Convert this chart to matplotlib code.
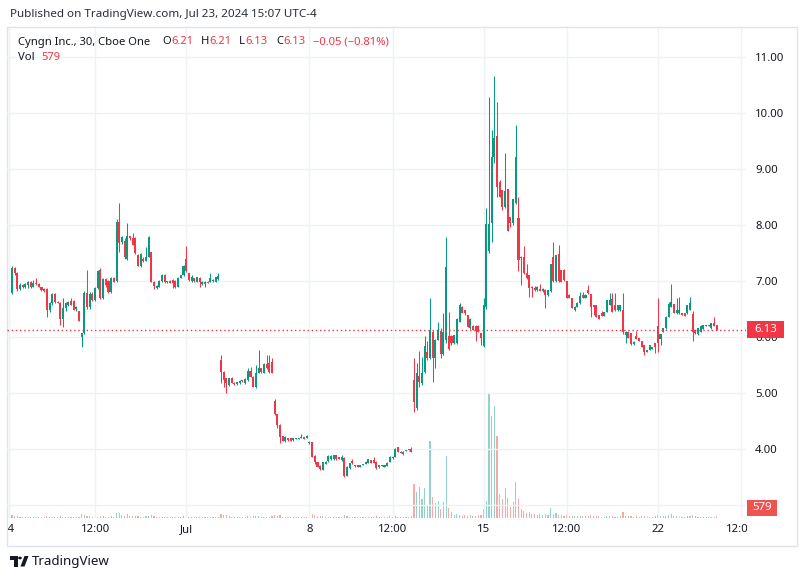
import matplotlib
matplotlib.use('Agg')
import matplotlib.pyplot as plt
from matplotlib.patches import Rectangle, Circle, Polygon

plt.rcParams['font.family'] = ['Noto Sans', 'DejaVu Sans']

## 30-minute bars, Jun 24 - Jul 23 2024 (13 bars a day, Jul 3 half day)
opens = [
    6.78, 7.23, 7.15, 6.85, 6.93, 6.90, 6.93, 6.99, 6.90, 6.97, 6.94, 6.90, 6.85,  # Jun 24
    6.86, 6.48, 6.60, 6.77, 6.62, 6.61, 6.32, 6.52, 6.58, 6.64, 6.64, 6.50, 6.47,  # Jun 25
    6.00, 6.08, 6.78, 6.54, 6.77, 6.66, 6.87, 7.20, 6.70, 7.04, 7.00, 6.80, 7.06,  # Jun 26
    7.00, 8.06, 7.70, 7.72, 7.40, 7.80, 7.76, 7.76, 7.46, 7.27, 7.40, 7.36, 7.43,  # Jun 27
    7.51, 6.99, 6.88, 6.90, 7.00, 7.10, 6.98, 7.00, 7.02, 7.00, 6.90, 7.06, 7.10,  # Jun 28
    7.40, 7.14, 7.00, 7.05, 6.99, 7.06, 6.94, 6.94, 6.99, 6.99, 7.00, 6.99, 7.03,  # Jul 1
    5.59, 5.38, 5.26, 5.14, 5.26, 5.18, 5.16, 5.17, 5.22, 5.17, 5.23, 5.40, 5.29,  # Jul 2
    5.10, 5.36, 5.44, 5.36, 5.52, 5.53, 5.56,                                      # Jul 3
    4.85, 4.62, 4.43, 4.23, 4.14, 4.19, 4.19, 4.16, 4.18, 4.18, 4.19, 4.21, 4.20,  # Jul 5
    4.10, 4.12, 3.88, 3.76, 3.70, 3.63, 3.74, 3.78, 3.82, 3.82, 3.89, 3.835, 3.80,  # Jul 8
    3.845, 3.52, 3.655, 3.79, 3.70, 3.714, 3.685, 3.714, 3.732, 3.756, 3.80, 3.80, 3.774,  # Jul 9
    3.67, 3.70, 3.68, 3.70, 3.774, 3.833, 3.863, 4.03, 3.935, 3.952, 3.97, 3.982, 4.00,  # Jul 10
    5.23, 4.74, 5.31, 5.17, 5.38, 5.73, 5.63, 6.095, 5.63, 5.946, 6.10, 5.70, 5.95,  # Jul 11
    6.02, 6.02, 5.89, 5.89, 6.27, 6.54, 6.48, 6.39, 6.155, 6.20, 6.20, 6.20, 6.065,  # Jul 12
    5.84, 6.54, 7.54, 8.04, 9.22, 9.59, 8.77, 8.62, 8.33, 8.65, 8.15, 8.03, 8.40,  # Jul 15
    8.13, 7.43, 7.42, 7.137, 7.107, 6.90, 6.87, 6.84, 6.86, 6.82, 6.84, 6.75, 6.82,  # Jul 16
    7.42, 7.00, 7.49, 7.195, 7.19, 7.00, 6.75, 6.69, 6.48, 6.54, 6.60, 6.75, 6.70,  # Jul 17
    6.84, 6.76, 6.57, 6.57, 6.39, 6.42, 6.38, 6.45, 6.58, 6.67, 6.58, 6.48, 6.48,  # Jul 18
    6.48, 6.04, 6.095, 6.077, 5.87, 6.024, 5.976, 5.93, 5.857, 5.738, 5.768, 5.786, 5.887,  # Jul 19
    6.20, 5.964, 6.095, 6.155, 6.363, 6.542, 6.583, 6.42, 6.42, 6.42, 6.42, 6.42, 6.482,  # Jul 22
    6.405, 6.125, 6.048, 6.095, 6.143, 6.19, 6.202, 6.155, 6.244, 6.21,            # Jul 23
]
highs = [
    7.26, 7.25, 7.16, 6.96, 6.95, 6.96, 7.00, 7.00, 7.01, 7.05, 6.96, 6.90, 6.88,
    6.87, 6.62, 6.78, 6.78, 6.64, 6.62, 6.70, 6.62, 6.65, 6.69, 6.66, 6.55, 6.47,
    6.08, 6.82, 7.20, 6.80, 6.80, 6.90, 7.20, 7.23, 7.06, 7.06, 7.02, 7.08, 7.08,
    8.10, 8.39, 7.80, 7.76, 8.03, 7.81, 7.86, 7.78, 7.48, 7.50, 7.42, 7.60, 7.80,
    7.52, 7.00, 6.93, 7.01, 7.12, 7.12, 7.00, 7.01, 7.03, 7.01, 7.07, 7.11, 7.28,
    7.62, 7.15, 7.10, 7.06, 7.08, 7.07, 7.00, 7.00, 7.00, 7.14, 7.03, 7.08, 7.14,
    5.68, 5.40, 5.27, 5.27, 5.28, 5.19, 5.20, 5.23, 5.24, 5.26, 5.45, 5.47, 5.30,
    5.50, 5.77, 5.45, 5.53, 5.68, 5.68, 5.62,
    4.89, 4.63, 4.44, 4.24, 4.23, 4.20, 4.20, 4.19, 4.19, 4.20, 4.27, 4.22, 4.25,
    4.14, 4.13, 3.89, 3.77, 3.71, 3.77, 3.78, 3.89, 3.89, 3.90, 3.90, 3.85, 3.89,
    3.85, 3.70, 3.75, 3.82, 3.71, 3.72, 3.72, 3.74, 3.78, 3.82, 3.81, 3.85, 3.78,
    3.72, 3.71, 3.72, 3.76, 3.87, 3.87, 4.01, 4.04, 3.96, 3.96, 3.99, 3.99, 4.03,
    5.62, 5.53, 5.75, 5.65, 6.01, 5.93, 6.69, 6.12, 5.97, 6.27, 6.16, 6.42, 7.79,
    6.45, 6.03, 6.04, 6.34, 6.60, 6.55, 6.49, 6.40, 6.34, 6.21, 6.21, 6.21, 6.07,
    6.70, 8.30, 10.29, 9.70, 10.66, 10.20, 8.80, 8.62, 9.28, 8.65, 8.15, 8.46, 9.78,
    8.50, 7.44, 7.625, 7.30, 7.11, 6.91, 6.91, 6.91, 6.94, 6.87, 6.85, 6.84, 7.30,
    7.70, 7.47, 7.64, 7.20, 7.21, 7.00, 6.76, 6.70, 6.55, 6.62, 6.81, 6.81, 6.76,
    6.93, 6.77, 6.58, 6.58, 6.40, 6.46, 6.45, 6.66, 6.78, 6.78, 6.78, 6.57, 6.57,
    6.78, 6.10, 6.10, 6.08, 5.92, 6.10, 5.98, 5.93, 5.86, 5.77, 5.86, 5.83, 5.89,
    6.69, 6.05, 6.16, 6.37, 6.62, 6.94, 6.59, 6.70, 6.71, 6.43, 6.43, 6.58, 6.72,
    6.464, 6.13, 6.16, 6.21, 6.22, 6.21, 6.21, 6.25, 6.35, 6.21,
]
lows = [
    6.76, 7.10, 6.82, 6.84, 6.88, 6.88, 6.88, 6.88, 6.89, 6.93, 6.90, 6.83, 6.81,
    6.36, 6.45, 6.58, 6.60, 6.60, 6.22, 6.18, 6.46, 6.55, 6.57, 6.48, 6.46, 6.28,
    5.83, 6.05, 6.50, 6.50, 6.64, 6.64, 6.85, 6.68, 6.68, 6.90, 6.78, 6.79, 6.98,
    6.99, 7.51, 7.66, 7.40, 7.38, 7.74, 7.64, 7.49, 7.26, 7.25, 7.34, 7.35, 7.42,
    6.98, 6.85, 6.86, 6.89, 6.98, 6.96, 6.97, 6.96, 6.87, 6.87, 6.89, 7.05, 7.09,
    7.16, 7.00, 6.98, 6.99, 6.98, 6.89, 6.92, 6.89, 6.96, 6.98, 6.99, 6.98, 7.02,
    5.17, 5.11, 5.00, 5.12, 5.17, 5.15, 5.15, 5.16, 5.20, 5.16, 5.22, 5.28, 5.10,
    5.09, 5.35, 5.36, 5.35, 5.43, 5.36, 5.35,
    4.60, 4.38, 4.10, 4.14, 4.12, 4.15, 4.14, 4.15, 4.18, 4.18, 4.19, 4.17, 4.20,
    4.09, 3.85, 3.74, 3.68, 3.63, 3.62, 3.73, 3.77, 3.81, 3.81, 3.81, 3.82, 3.79,
    3.50, 3.51, 3.65, 3.74, 3.685, 3.67, 3.68, 3.71, 3.73, 3.75, 3.75, 3.75, 3.64,
    3.66, 3.69, 3.67, 3.70, 3.77, 3.83, 3.86, 3.95, 3.93, 3.893, 3.96, 3.97, 3.94,
    4.655, 4.70, 5.11, 5.15, 5.35, 5.59, 5.60, 5.20, 5.44, 5.94, 5.62, 5.68, 5.90,
    5.76, 5.86, 5.88, 5.88, 6.26, 6.42, 6.40, 6.18, 6.15, 6.12, 5.93, 6.09, 5.857,
    5.83, 6.50, 7.50, 7.70, 9.10, 8.50, 8.50, 8.27, 8.30, 7.90, 7.96, 8.00, 8.38,
    7.17, 6.93, 7.13, 7.04, 6.72, 6.72, 6.83, 6.83, 6.82, 6.81, 6.51, 6.74, 6.81,
    6.99, 6.98, 6.99, 6.99, 7.00, 6.70, 6.69, 6.51, 6.47, 6.53, 6.59, 6.70, 6.69,
    6.77, 6.36, 6.39, 6.36, 6.33, 6.37, 6.37, 6.44, 6.57, 6.45, 6.47, 6.47, 6.47,
    6.06, 5.89, 5.98, 5.86, 5.86, 5.96, 5.92, 5.82, 5.68, 5.73, 5.76, 5.78, 5.71,
    5.726, 5.857, 6.09, 6.15, 6.36, 6.54, 6.42, 6.41, 6.41, 6.39, 6.38, 6.41, 6.48,
    5.93, 6.06, 6.04, 6.09, 6.14, 6.19, 6.19, 6.15, 6.19, 6.13,
]
closes = [
    7.23, 7.15, 6.85, 6.93, 6.90, 6.95, 6.99, 6.89, 6.97, 6.94, 6.90, 6.84, 6.83,
    6.48, 6.60, 6.77, 6.62, 6.61, 6.32, 6.52, 6.60, 6.62, 6.58, 6.49, 6.54, 6.29,
    6.08, 6.78, 6.54, 6.77, 6.66, 6.87, 7.18, 6.70, 7.04, 6.92, 6.80, 7.05, 6.99,
    8.06, 7.68, 7.79, 7.43, 7.80, 7.76, 7.65, 7.50, 7.27, 7.48, 7.36, 7.43, 7.78,
    6.99, 6.91, 6.91, 7.00, 7.10, 6.99, 6.99, 6.97, 6.96, 6.90, 7.06, 7.10, 7.27,
    7.17, 7.02, 7.08, 7.00, 7.07, 6.99, 6.99, 6.99, 6.97, 7.06, 7.02, 7.07, 7.09,
    5.38, 5.23, 5.17, 5.26, 5.18, 5.16, 5.19, 5.22, 5.21, 5.25, 5.40, 5.29, 5.11,
    5.36, 5.44, 5.37, 5.52, 5.44, 5.38, 5.36,
    4.62, 4.43, 4.22, 4.15, 4.22, 4.16, 4.15, 4.19, 4.19, 4.19, 4.21, 4.18, 4.24,
    4.13, 3.85, 3.76, 3.685, 3.64, 3.76, 3.77, 3.88, 3.88, 3.89, 3.82, 3.83, 3.86,
    3.52, 3.685, 3.744, 3.744, 3.71, 3.673, 3.714, 3.732, 3.77, 3.815, 3.756, 3.756, 3.655,
    3.71, 3.71, 3.71, 3.756, 3.863, 3.863, 4.00, 3.952, 3.952, 3.911, 3.982, 3.975, 3.94,
    4.845, 5.35, 5.19, 5.35, 5.84, 5.63, 6.125, 5.63, 5.946, 6.107, 5.70, 6.09, 7.256,
    5.78, 5.89, 6.036, 6.33, 6.57, 6.43, 6.42, 6.185, 6.33, 6.125, 6.107, 6.095, 5.976,
    6.57, 8.02, 8.02, 9.22, 9.56, 8.68, 8.50, 8.33, 8.60, 7.90, 8.03, 8.46, 9.22,
    7.375, 7.405, 7.137, 7.048, 6.88, 6.87, 6.84, 6.90, 6.82, 6.857, 6.75, 6.84, 7.298,
    7.00, 7.46, 7.00, 6.99, 7.02, 6.70, 6.69, 6.52, 6.54, 6.61, 6.74, 6.70, 6.75,
    6.78, 6.54, 6.54, 6.36, 6.33, 6.38, 6.45, 6.66, 6.66, 6.45, 6.48, 6.57, 6.57,
    6.095, 6.095, 5.99, 5.87, 5.917, 5.964, 5.93, 5.827, 5.738, 5.768, 5.857, 5.827, 5.827,
    5.887, 6.048, 6.155, 6.363, 6.583, 6.619, 6.42, 6.482, 6.482, 6.393, 6.381, 6.571, 6.60,
    6.095, 6.065, 6.155, 6.202, 6.214, 6.202, 6.19, 6.244, 6.19, 6.13,
]
volumes = [
    910, 560, 610, 320, 270, 300, 280, 310, 290, 260, 330, 280, 300,
    640, 310, 280, 300, 270, 590, 320, 290, 260, 300, 280, 310, 290,
    1180, 890, 610, 570, 300, 280, 310, 620, 560, 290, 300, 580, 310,
    1470, 1420, 880, 600, 1150, 590, 610, 560, 590, 300, 280, 610, 570,
    860, 590, 300, 280, 310, 290, 270, 300, 310, 280, 290, 300, 600,
    870, 310, 290, 280, 300, 270, 290, 310, 280, 300, 290, 280, 310,
    1190, 880, 860, 590, 300, 280, 310, 290, 270, 300, 610, 290, 580,
    600, 570, 300, 280, 290, 310, 590,
    880, 600, 860, 300, 290, 280, 310, 270, 300, 290, 280, 300, 310,
    590, 1160, 880, 600, 570, 580, 300, 290, 280, 310, 300, 270, 290,
    860, 590, 300, 290, 280, 310, 300, 270, 290, 300, 310, 280, 600,
    300, 280, 310, 290, 590, 300, 620, 280, 290, 300, 310, 270, 580,
    9860, 7540, 8990, 5510, 8700, 3770, 22330, 6090, 4350, 4930, 2610, 4640, 17980,
    2900, 1740, 870, 1160, 880, 580, 860, 590, 870, 600, 570, 880, 860,
    2610, 4930, 35960, 29580, 32480, 23780, 6960, 5510, 8700, 5800, 3190, 4640, 10440,
    5510, 2610, 2030, 1450, 1740, 1160, 1180, 870, 1150, 880, 1160, 860, 2900,
    1160, 1450, 880, 860, 590, 870, 580, 600, 570, 590, 610, 580, 600,
    580, 870, 600, 590, 570, 300, 290, 610, 580, 590, 310, 280, 600,
    1740, 590, 580, 600, 300, 610, 290, 580, 590, 310, 280, 300, 600,
    870, 590, 600, 580, 880, 1160, 610, 570, 300, 290, 310, 580, 600,
    880, 590, 310, 290, 300, 280, 310, 290, 300, 579,
]

# time axis labels (bar index where they sit)
tick_pos = [-1.3, 31, 65, 111, 142, 176, 207, 241, 272]
tick_lab = ['24', '12:00', 'Jul', '8', '12:00', '15', '12:00', '22', '12:00']
price_ticks = [3, 4, 5, 6, 7, 8, 9, 10, 11]

UP, DN = '#089981', '#f23645'
UPV, DNV = '#92d2cc', '#f7a9a7'
TXT = '#131722'
GRID = '#eff1f4'

W, H = 808, 579
fig = plt.figure(figsize=(W / 100, H / 100), dpi=100)
fig.patch.set_facecolor('white')


def fx(px):
    return px / W


def fy(py):
    return 1 - py / H


ax = fig.add_axes([fx(7), fy(518), fx(746) - fx(7), fy(28) - fy(518)])
axv = ax.twinx()
ax.set_zorder(2)
axv.set_zorder(1)
ax.patch.set_visible(False)

n = len(closes)
xs = list(range(n))
up = [c >= o for o, c in zip(opens, closes)]

# volume
axv.bar(xs, volumes, width=0.42, color=[UPV if u else DNV for u in up], linewidth=0)
axv.set_ylim(0, 142100)
axv.axis('off')

# candles
col = [UP if u else DN for u in up]
ax.vlines(xs, lows, highs, colors=col, linewidth=0.75, zorder=3)
bot = [min(o, c) for o, c in zip(opens, closes)]
hgt = [max(abs(c - o), 0.02) for o, c in zip(opens, closes)]
ax.bar(xs, hgt, bottom=bot, width=0.76, color=col, linewidth=0, zorder=4)

ax.set_xlim(-1.87, 273.9)
ax.set_ylim(2.768, 11.518)
axv.set_xlim(-1.87, 273.9)

# last price line
ax.axhline(closes[-1], color=DN, linewidth=1.0, linestyle=(0, (1, 2)), zorder=5)

ax.set_xticks(tick_pos)
ax.set_xticklabels([])
ax.set_yticks(price_ticks)
# 3.00 sits under the volume label in the original, so it is left blank
ax.set_yticklabels(['' if v == 3 else f'{v:.2f}' for v in price_ticks])
ax.yaxis.tick_right()
ax.tick_params(axis='both', length=0, colors=TXT, labelsize=8.2)
ax.tick_params(axis='y', pad=6.5)
ax.grid(True, color=GRID, linewidth=1.0, zorder=0)
for s in ax.spines.values():
    s.set_visible(False)

# time labels, clipped at the edges of the pane
axt = fig.add_axes([fx(7), fy(546), fx(747) - fx(7), fy(518) - fy(546)])
axt.set_xlim(-1.87, 273.9 + 1 / 2.68)
axt.set_ylim(0, 1)
axt.axis('off')
for p, lab in zip(tick_pos, tick_lab):
    axt.text(p, 0.6, lab, ha='center', va='center', fontsize=8.2, color=TXT, clip_on=True)

# frame
fig.patches.append(Rectangle((fx(7), fy(546)), fx(797) - fx(7), fy(27) - fy(546),
                             transform=fig.transFigure, fill=False,
                             edgecolor='#e0e3eb', linewidth=1.0))

# last price and volume labels on the right scale
fig.canvas.draw()
renderer = fig.canvas.get_renderer()
y_last = ax.transData.transform((0, closes[-1]))[1]
y_last_px = H - y_last
fig.patches.append(Rectangle((fx(747), fy(y_last_px + 8.5)), fx(37), 17 / H,
                             transform=fig.transFigure, facecolor=DN, edgecolor='none', zorder=10))
fig.text(fx(765.5), fy(y_last_px), f'{closes[-1]:.2f}', ha='center', va='center',
         fontsize=8.2, fontweight='bold', color='white', zorder=11)
fig.patches.append(Rectangle((fx(747), fy(516)), fx(30), 16 / H,
                             transform=fig.transFigure, facecolor='#ef5350', edgecolor='none', zorder=10))
fig.text(fx(762), fy(508), f'{volumes[-1]}', ha='center', va='center',
         fontsize=8.2, fontweight='bold', color='white', zorder=11)

# header and legend
LEG = 8.1
fig.text(fx(10), fy(15), 'Published on TradingView.com, Jul 23, 2024 15:07 UTC-4',
         ha='left', va='center', fontsize=8.4, color='#2a2e39')
fig.text(fx(18), fy(42), 'Cyngn Inc., 30, Cboe One', ha='left', va='center',
         fontsize=LEG, color=TXT)
legend = [(162, 'O', f'{opens[-1]:.2f}'), (201, 'H', f'{highs[-1]:.2f}'),
          (239, 'L', f'{lows[-1]:.2f}'), (276, 'C', f'{closes[-1]:.2f}')]
for px, key, val in legend:
    t = fig.text(fx(px), fy(42), key, ha='left', va='center', fontsize=LEG, color=TXT)
    x1 = t.get_window_extent(renderer).x1
    fig.text(x1 / W + 0.4 / W, fy(42), val, ha='left', va='center', fontsize=LEG, color=DN)
fig.text(fx(313), fy(42), '\u22120.05 (\u22120.81%)', ha='left', va='center',
         fontsize=LEG, color=DN)
fig.text(fx(18), fy(58), 'Vol', ha='left', va='center', fontsize=LEG, color=TXT)
fig.text(fx(41), fy(58), f'{volumes[-1]}', ha='left', va='center', fontsize=LEG, color=DN)

# TradingView logo
fig.patches.append(Rectangle((fx(10), fy(559.5)), fx(7.5), 3.5 / H, transform=fig.transFigure,
                             facecolor=TXT, edgecolor='none'))
fig.patches.append(Rectangle((fx(14), fy(566.5)), fx(3.5), 10.5 / H, transform=fig.transFigure,
                             facecolor=TXT, edgecolor='none'))
fig.patches.append(Circle((fx(20), fy(558)), 1.9 / W, transform=fig.transFigure,
                          facecolor=TXT, edgecolor='none'))
fig.patches.append(Polygon([(fx(20.5), fy(566.5)), (fx(24.5), fy(556)), (fx(28.5), fy(556)),
                            (fx(24.5), fy(566.5))], closed=True, transform=fig.transFigure,
                           facecolor=TXT, edgecolor='none'))
fig.text(fx(32), fy(561), 'TradingView', ha='left', va='center', fontsize=9.6, color=TXT)

fig.savefig('out.png', dpi=100)
